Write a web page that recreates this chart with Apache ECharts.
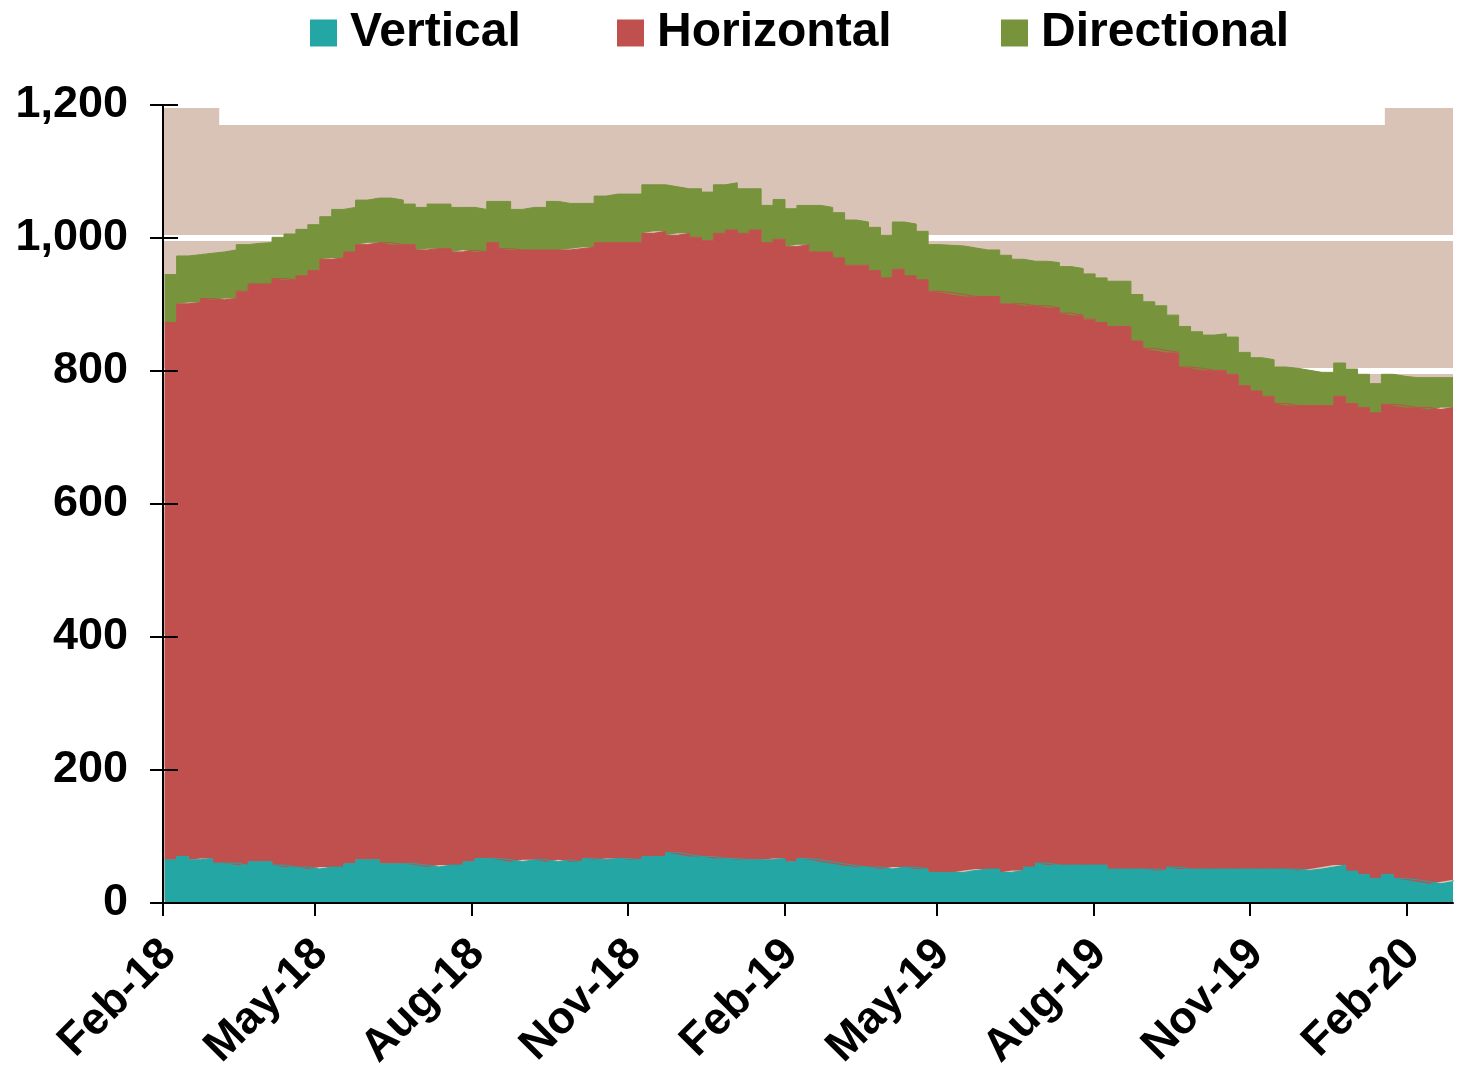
<!DOCTYPE html>
<html>
<head>
<meta charset="utf-8">
<title>Rig count by trajectory</title>
<script src="https://cdn.jsdelivr.net/npm/echarts@6/dist/echarts.min.js"></script>
</head>
<body style="margin:0">
<div id="main" style="width:1460px;height:1068px;"></div>
<script>
// weekly counts, first report Fri 2 Feb 2018, one value per week
var vertical = [65,70,65,67,60,60,57,62,62,57, 54,54,51,54,54,59,65,65,59,59,
    59,57,54,57,57,62,67,67,65,62, 65,65,62,65,62,67,65,67,67,65,
    70,70,76,73,70,70,67,67,65,65, 65,67,62,67,65,62,59,56,54,54,
    51,54,54,51,46,46,46,49,51,51, 46,49,54,60,57,57,57,57,57,51,
    51,51,51,49,54,51,51,51,51,51, 51,51,51,51,51,49,51,54,57,48,
    43,37,43,37,35,32,29,32,35];
var horizontal = [808,831,838,842,847,849,863,869,869,882, 883,889,900,914,916,920,925,928,934,931,
    931,925,930,927,922,920,912,926,919,920, 917,917,920,917,922,919,928,926,926,928,
    937,940,928,934,931,926,940,945,942,947, 928,931,925,923,914,917,911,903,905,897,
    889,899,889,886,874,872,869,863,861,861, 855,852,844,838,838,830,827,821,816,816,
    816,794,783,782,774,755,753,750,750,744, 727,719,711,700,697,699,697,694,705,703,
    702,700,707,711,710,713,713,713,710];
var directional = [72,72,72,68,72,73,70,61,62,62, 69,70,69,64,73,67,67,67,67,67,
    61,64,67,67,67,64,64,62,71,61, 64,64,73,70,68,66,70,73,73,73,
    73,70,73,67,73,73,73,71,67,62, 56,60,57,59,70,67,68,68,65,65,
    64,71,78,73,70,71,73,73,70,70, 73,67,67,67,68,70,70,68,67,68,
    68,70,70,67,56,61,55,53,55,56, 50,50,55,55,56,53,50,50,50,52,
    50,44,45,44,45,45,48,45,45];

// background band
var shadeDates = [[2018,2,1],[2018,3,6],[2020,1,19],[2020,2,28]];
var shadeValues = [1200, 1170, 1200, 1200];

var tickDates = [[2018,2,1],[2018,5,1],[2018,8,1],[2018,11,1],[2019,2,1],
    [2019,5,1],[2019,8,1],[2019,11,1],[2020,2,1]];
var tickLabels = ['Feb-18','May-18','Aug-18','Nov-18','Feb-19','May-19','Aug-19','Nov-19','Feb-20'];

// x is counted in days from 1 Feb 2018
var base = new Date(2018, 1, 1).getTime();
function day(d) { return Math.round((new Date(d[0], d[1] - 1, d[2]).getTime() - base) / 86400000); }

var weeks = [];
for (var k = 0; k < vertical.length; k++) weeks.push(1 + 7 * k);

// value first so the stack runs on y
function pairs(vals) { return vals.map(function (v, i) { return [v, weeks[i]]; }); }

var tickValues = tickDates.map(day);
var font = "'Liberation Sans', Arial, sans-serif";

var myChart = echarts.init(document.getElementById('main'));

function legendItem(name, left) {
    return {
        data: [name], left: left, top: 9, padding: 0, icon: 'rect', itemWidth: 27, itemHeight: 27,
        selectedMode: false,
        textStyle: {fontFamily: font, fontWeight: 'bold', fontSize: 48, color: '#000', padding: [0, 0, 0, 8]}
    };
}

function stackSeries(name, color, vals) {
    return {
        name: name, type: 'line', stack: 'rigs', step: 'end', z: 3,
        data: pairs(vals), encode: {x: 1, y: 0},
        showSymbol: false, lineStyle: {width: 1, color: color},
        itemStyle: {color: color},
        areaStyle: {color: color, opacity: 1}
    };
}

myChart.setOption({
    animation: false,
    legend: [
        legendItem('Vertical', 310),
        legendItem('Horizontal', 617),
        legendItem('Directional', 1001)
    ],
    grid: {left: 163, right: 7, top: 105, bottom: 165, containLabel: false, outerBoundsMode: 'none'},
    xAxis: {
        type: 'value',
        min: 0,
        max: day([2020,2,28]),
        z: 4,
        axisLine: {lineStyle: {color: '#000', width: 2}},
        axisTick: {show: true, length: 13, lineStyle: {color: '#000', width: 2}, customValues: tickValues},
        axisLabel: {
            customValues: tickValues,
            rotate: 45,
            margin: 38,
            fontFamily: font, fontWeight: 'bold', fontSize: 45, color: '#000',
            formatter: function (v) {
                var i = tickValues.indexOf(v);
                return i >= 0 ? '{t|' + tickLabels[i] + '}' : '';
            },
            rich: {
                t: {fontFamily: font, fontWeight: 'bold', fontSize: 45, color: '#000', padding: [17, 0, 0, 0]}
            }
        },
        splitLine: {show: false}
    },
    yAxis: [{
        type: 'value', position: 'left', min: 0, max: 1200, interval: 200, z: 4,
        axisLine: {show: true, lineStyle: {color: '#000', width: 2}},
        axisTick: {show: true, length: 13, lineStyle: {color: '#000', width: 2}},
        axisLabel: {
            margin: 35, fontFamily: font, fontWeight: 'bold', fontSize: 45, color: '#000',
            formatter: function (v) { return v.toLocaleString('en-US'); }
        },
        splitLine: {show: false}
    }, {
        // inner half of the crossing ticks
        type: 'value', position: 'left', min: 0, max: 1200, interval: 200, z: 4,
        axisLine: {show: false},
        axisTick: {show: true, inside: true, length: 15, lineStyle: {color: '#000', width: 2}},
        axisLabel: {show: false},
        splitLine: {show: false}
    }, {
        // white gridlines, above the shading but under the stack
        type: 'value', position: 'left', min: 0, max: 1200, interval: 200, z: 2,
        axisLine: {show: false}, axisTick: {show: false}, axisLabel: {show: false},
        splitLine: {show: true, lineStyle: {color: '#fff', width: 6}}
    }],
    series: [{
        name: 'shade', type: 'line', step: 'end', z: 1,
        data: shadeDates.map(function (d, i) { return [day(d), shadeValues[i]]; }),
        showSymbol: false, lineStyle: {width: 0},
        itemStyle: {color: '#D9C3B7'},
        areaStyle: {color: '#D9C3B7', opacity: 1}, silent: true
    },
        stackSeries('Vertical', '#23A6A4', vertical),
        stackSeries('Horizontal', '#C0504D', horizontal),
        stackSeries('Directional', '#77933C', directional)
    ]
});
</script>
</body>
</html>
